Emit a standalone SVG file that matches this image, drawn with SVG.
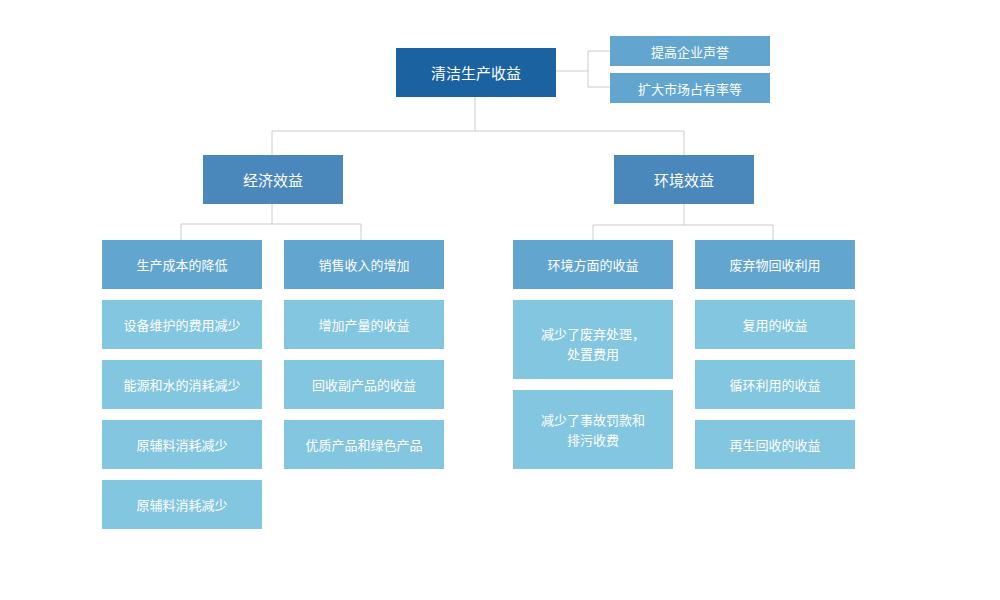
<svg xmlns="http://www.w3.org/2000/svg" width="1000" height="600" viewBox="0 0 1000 600">
<style>
text{font-family:"Noto Sans CJK SC","Liberation Sans",sans-serif;fill:#fff;text-anchor:middle;dominant-baseline:central}
.l{fill:none;stroke:#cccccc;stroke-width:1}
.r{fill:#1a62a0}.b{fill:#4a87bb}.h{fill:#62a6cf}.i{fill:#83c6e0}
.t1{font-size:15px}.t2{font-size:13px}
</style>
<rect width="1000" height="600" fill="#fff"/>
<g id="connectors">
<path class="l" d="M556 71H588M588 51V87M588 51H610M588 87H610"/>
<path class="l" d="M475 97V131M272 131H684M272 131V155M684 131V155"/>
<path class="l" d="M272 204V224M181 224H361M181 224V240M361 224V240"/>
<path class="l" d="M684 204V225M593 225H773M593 225V240M773 225V240"/>
</g>
<g id="root"><rect class="r" x="396" y="48" width="160" height="49"/><text class="t1" x="476" y="72.5">清洁生产收益</text></g>
<g id="s1"><rect class="h" x="610" y="36" width="160" height="30"/><text class="t2" x="690" y="51">提高企业声誉</text></g>
<g id="s2"><rect class="h" x="610" y="73" width="160" height="30"/><text class="t2" x="690" y="88">扩大市场占有率等</text></g>
<g id="econ"><rect class="b" x="203" y="155" width="140" height="49"/><text class="t1" x="273" y="179.5">经济效益</text></g>
<g id="env"><rect class="b" x="614" y="155" width="140" height="49"/><text class="t1" x="684" y="179.5">环境效益</text></g>
<g id="a0"><rect class="h" x="102" y="240" width="160" height="49"/><text class="t2" x="182" y="264.5">生产成本的降低</text></g>
<g id="a1"><rect class="i" x="102" y="300" width="160" height="49"/><text class="t2" x="182" y="324.5">设备维护的费用减少</text></g>
<g id="a2"><rect class="i" x="102" y="360" width="160" height="49"/><text class="t2" x="182" y="384.5">能源和水的消耗减少</text></g>
<g id="a3"><rect class="i" x="102" y="420" width="160" height="49"/><text class="t2" x="182" y="444.5">原辅料消耗减少</text></g>
<g id="a4"><rect class="i" x="102" y="480" width="160" height="49"/><text class="t2" x="182" y="504.5">原辅料消耗减少</text></g>
<g id="b0"><rect class="h" x="284" y="240" width="160" height="49"/><text class="t2" x="364" y="264.5">销售收入的增加</text></g>
<g id="b1"><rect class="i" x="284" y="300" width="160" height="49"/><text class="t2" x="364" y="324.5">增加产量的收益</text></g>
<g id="b2"><rect class="i" x="284" y="360" width="160" height="49"/><text class="t2" x="364" y="384.5">回收副产品的收益</text></g>
<g id="b3"><rect class="i" x="284" y="420" width="160" height="49"/><text class="t2" x="364" y="444.5">优质产品和绿色产品</text></g>
<g id="c0"><rect class="h" x="513" y="240" width="160" height="49"/><text class="t2" x="593" y="264.5">环境方面的收益</text></g>
<g id="c1"><rect class="i" x="513" y="300" width="160" height="79"/><text class="t2" x="593" y="333">减少了废弃处理，</text><text class="t2" x="593" y="353">处置费用</text></g>
<g id="c2"><rect class="i" x="513" y="390" width="160" height="79"/><text class="t2" x="593" y="419">减少了事故罚款和</text><text class="t2" x="593" y="439">排污收费</text></g>
<g id="d0"><rect class="h" x="695" y="240" width="160" height="49"/><text class="t2" x="775" y="264.5">废弃物回收利用</text></g>
<g id="d1"><rect class="i" x="695" y="300" width="160" height="49"/><text class="t2" x="775" y="324.5">复用的收益</text></g>
<g id="d2"><rect class="i" x="695" y="360" width="160" height="49"/><text class="t2" x="775" y="384.5">循环利用的收益</text></g>
<g id="d3"><rect class="i" x="695" y="420" width="160" height="49"/><text class="t2" x="775" y="444.5">再生回收的收益</text></g>
</svg>
